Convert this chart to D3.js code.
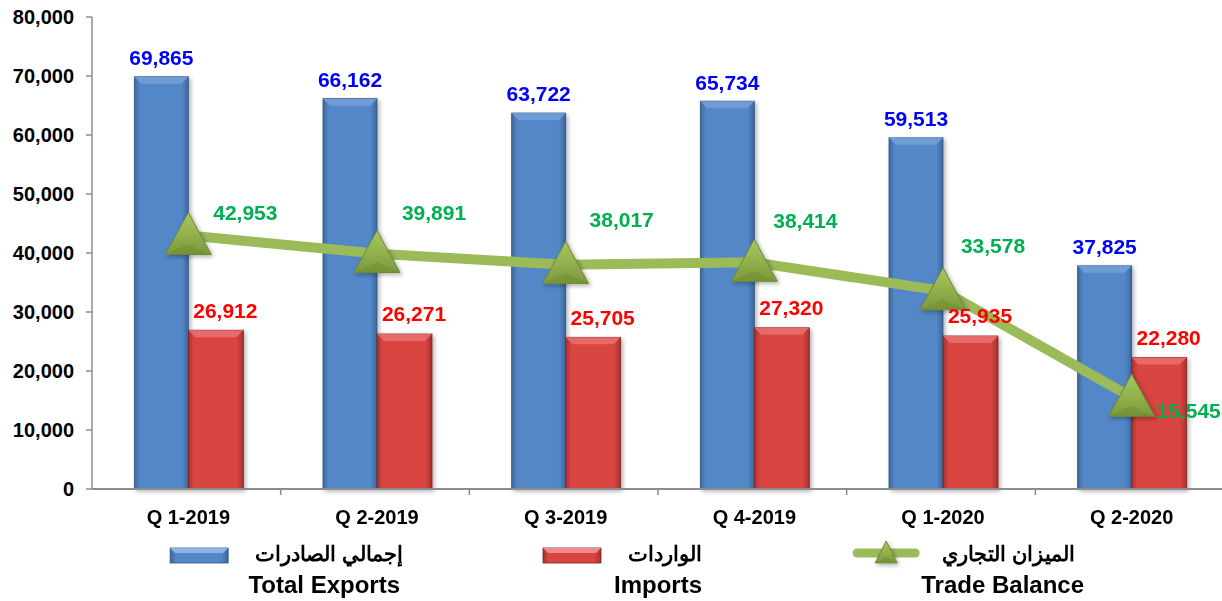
<!DOCTYPE html>
<html>
<head>
<meta charset="utf-8">
<script src="https://cdn.jsdelivr.net/npm/d3@7"></script>
<style>
  body { margin: 0; background: #fff; }
  svg text { font-family: "Liberation Sans", Arial, sans-serif; font-weight: bold; }
</style>
</head>
<body>
<svg id="chart" width="1222" height="601"></svg>
<script>
// data
var quarters = ["Q 1-2019", "Q 2-2019", "Q 3-2019", "Q 4-2019", "Q 1-2020", "Q 2-2020"];
var exportsVals = [69865, 66162, 63722, 65734, 59513, 37825];
var importsVals = [26912, 26271, 25705, 27320, 25935, 22280];
var balanceVals = [42953, 39891, 38017, 38414, 33578, 15545];
var yTicks = [0, 10000, 20000, 30000, 40000, 50000, 60000, 70000, 80000];

// where the trade balance labels sit relative to their point (dx, dy)
var balanceLabelOffset = [[57, -23], [57, -41], [56, -45], [51, -42], [50, -45], [57, 13]];

var svg = d3.select("#chart");
var width = 1222, height = 601;
var plotLeft = 92, plotRight = 1224, plotTop = 17, plotBottom = 489;

var x = d3.scaleBand().domain(quarters).range([plotLeft, plotRight]).padding(0);
var y = d3.scaleLinear().domain([0, 80000]).range([plotBottom, plotTop]);
var fmt = d3.format(",");
// bars and markers sit a touch right of the band centre
function mid(q) { return x(q) + x.bandwidth() / 2 + 2; }

var defs = svg.append("defs");

// horizontal gradients for the bevelled bars
function barGradient(id, dark, midCol) {
    var g = defs.append("linearGradient").attr("id", id)
        .attr("x1", "0%").attr("x2", "100%").attr("y1", "0%").attr("y2", "0%");
    g.append("stop").attr("offset", "0%").attr("stop-color", dark);
    g.append("stop").attr("offset", "10%").attr("stop-color", midCol);
    g.append("stop").attr("offset", "88%").attr("stop-color", midCol);
    g.append("stop").attr("offset", "100%").attr("stop-color", dark);
}
barGradient("blueGrad", "#3e6799", "#5287c8");
barGradient("redGrad", "#a33230", "#d94441");

var tri = defs.append("linearGradient").attr("id", "triGrad")
    .attr("x1", "0%").attr("x2", "0%").attr("y1", "0%").attr("y2", "100%");
tri.append("stop").attr("offset", "0%").attr("stop-color", "#a9c85f");
tri.append("stop").attr("offset", "100%").attr("stop-color", "#7d9a3c");

var shadow = defs.append("filter").attr("id", "shadow")
    .attr("x", "-20%").attr("y", "-20%").attr("width", "150%").attr("height", "150%");
shadow.append("feDropShadow").attr("dx", 2).attr("dy", 2).attr("stdDeviation", 2)
    .attr("flood-color", "#000").attr("flood-opacity", 0.3);

// y axis
svg.append("line").attr("x1", plotLeft).attr("x2", plotLeft).attr("y1", plotTop).attr("y2", plotBottom)
    .attr("stroke", "#8c8c8c").attr("stroke-width", 1.5);
svg.selectAll(".ytick").data(yTicks).enter().append("line")
    .attr("x1", plotLeft - 6).attr("x2", plotLeft)
    .attr("y1", function (d) { return y(d); }).attr("y2", function (d) { return y(d); })
    .attr("stroke", "#8c8c8c").attr("stroke-width", 1.5);
svg.selectAll(".ylab").data(yTicks).enter().append("text")
    .attr("x", 74).attr("y", function (d) { return y(d); })
    .attr("dy", "0.35em").attr("text-anchor", "end")
    .attr("font-size", 20).attr("fill", "#000")
    .text(function (d) { return fmt(d); });

// one bevelled bar
function drawBar(g, x0, w, v, grad, topCol, edgeCol) {
    var y0 = y(v), h = plotBottom - y0, b = 7;
    g.append("rect").attr("x", x0).attr("y", y0).attr("width", w).attr("height", h)
        .attr("fill", "url(#" + grad + ")").attr("stroke", edgeCol).attr("stroke-width", 0.8);
    g.append("path")
        .attr("d", "M" + x0 + "," + y0 + "L" + (x0 + w) + "," + y0 + "L" + (x0 + w - b) + "," + (y0 + b) +
            "L" + (x0 + b) + "," + (y0 + b) + "Z")
        .attr("fill", topCol).attr("opacity", 0.85);
}

var bw = 54;
var bars = svg.append("g").attr("filter", "url(#shadow)");
quarters.forEach(function (q, i) {
    var cx = mid(q);
    drawBar(bars, cx - bw, bw, exportsVals[i], "blueGrad", "#76a0d8", "#2f5382");
    drawBar(bars, cx, bw + 1, importsVals[i], "redGrad", "#e77271", "#7a2220");
});

// x axis
svg.append("line").attr("x1", plotLeft).attr("x2", width).attr("y1", plotBottom).attr("y2", plotBottom)
    .attr("stroke", "#8c8c8c").attr("stroke-width", 2);
svg.selectAll(".xtick").data(quarters.slice(1)).enter().append("line")
    .attr("x1", function (d) { return x(d); }).attr("x2", function (d) { return x(d); })
    .attr("y1", plotBottom).attr("y2", plotBottom + 6)
    .attr("stroke", "#8c8c8c").attr("stroke-width", 1.5);
svg.selectAll(".xlab").data(quarters).enter().append("text")
    .attr("x", function (d) { return mid(d); })
    .attr("y", 517).attr("dy", "0.35em").attr("text-anchor", "middle")
    .attr("font-size", 20).attr("fill", "#000")
    .text(function (d) { return d; });

// trade balance line
var line = d3.line()
    .x(function (d, i) { return mid(quarters[i]); })
    .y(function (d) { return y(d); });
svg.append("path").datum(balanceVals).attr("d", line)
    .attr("fill", "none").attr("stroke", "#9bbb59").attr("stroke-width", 10)
    .attr("stroke-linejoin", "round");

function triangle(g, cx, cy, w, h) {
    var s = g.append("g").attr("filter", "url(#shadow)");
    s.append("path")
        .attr("d", "M" + cx + "," + (cy - h * 0.55) + "L" + (cx + w / 2) + "," + (cy + h * 0.45) +
            "L" + (cx - w / 2) + "," + (cy + h * 0.45) + "Z")
        .attr("fill", "url(#triGrad)").attr("stroke", "#6f8a34").attr("stroke-width", 1);
    s.append("path")
        .attr("d", "M" + (cx - w / 2) + "," + (cy + h * 0.45) + "L" + cx + "," + (cy + h * 0.2) +
            "L" + (cx + w / 2) + "," + (cy + h * 0.45) + "Z")
        .attr("fill", "#6f8a34").attr("opacity", 0.45);
}
balanceVals.forEach(function (v, i) {
    triangle(svg, mid(quarters[i]), y(v), 46, 42);
});

// value labels
quarters.forEach(function (q, i) {
    var cx = mid(q);
    svg.append("text").attr("x", cx - bw / 2).attr("y", y(exportsVals[i]) - 19)
        .attr("dy", "0.35em").attr("text-anchor", "middle").attr("font-size", 21)
        .attr("fill", "#0000ff").text(fmt(exportsVals[i]));
    svg.append("text").attr("x", cx + bw / 2 + 10).attr("y", y(importsVals[i]) - 20)
        .attr("dy", "0.35em").attr("text-anchor", "middle").attr("font-size", 21)
        .attr("fill", "#ff0000").text(fmt(importsVals[i]));
    svg.append("text").attr("x", cx + balanceLabelOffset[i][0])
        .attr("y", y(balanceVals[i]) + balanceLabelOffset[i][1])
        .attr("dy", "0.35em").attr("text-anchor", "middle").attr("font-size", 21)
        .attr("fill", "#00b050").text(fmt(balanceVals[i]));
});

// legend
var legendItems = [
    { ar: "إجمالي الصادرات", en: "Total Exports", arEnd: 403, enEnd: 400, kind: "bar", grad: "blueGrad", topCol: "#8db3e2", edge: "#2f5382" },
    { ar: "الواردات", en: "Imports", arEnd: 702, enEnd: 702, kind: "bar", grad: "redGrad", topCol: "#ee8a89", edge: "#7a2220" },
    { ar: "الميزان التجاري", en: "Trade Balance", arEnd: 1075, enEnd: 1084, kind: "line" }
];
legendItems.forEach(function (it) {
    var ar = svg.append("text").attr("x", it.arEnd).attr("y", 554).attr("dy", "0.35em")
        .attr("text-anchor", "end").attr("font-size", 21).attr("fill", "#000")
        .attr("direction", "ltr").text(it.ar);
    svg.append("text").attr("x", it.enEnd).attr("y", 585).attr("dy", "0.35em")
        .attr("text-anchor", "end").attr("font-size", 24).attr("fill", "#000").text(it.en);
    var arW = ar.node().getComputedTextLength();
    var sx = it.arEnd - arW - 27;
    if (it.kind === "bar") {
        var g = svg.append("g");
        g.append("rect").attr("x", sx - 58).attr("y", 548).attr("width", 58).attr("height", 15)
            .attr("fill", "url(#" + it.grad + ")").attr("stroke", it.edge).attr("stroke-width", 0.8);
        g.append("path").attr("d", "M" + (sx - 58) + ",548L" + sx + ",548L" + (sx - 5) + ",553L" + (sx - 53) + ",553Z")
            .attr("fill", it.topCol);
    } else {
        svg.append("line").attr("x1", sx - 58).attr("x2", sx).attr("y1", 553).attr("y2", 553)
            .attr("stroke", "#9bbb59").attr("stroke-width", 9).attr("stroke-linecap", "round");
        triangle(svg, sx - 29, 553, 22, 22);
    }
});
</script>
</body>
</html>
